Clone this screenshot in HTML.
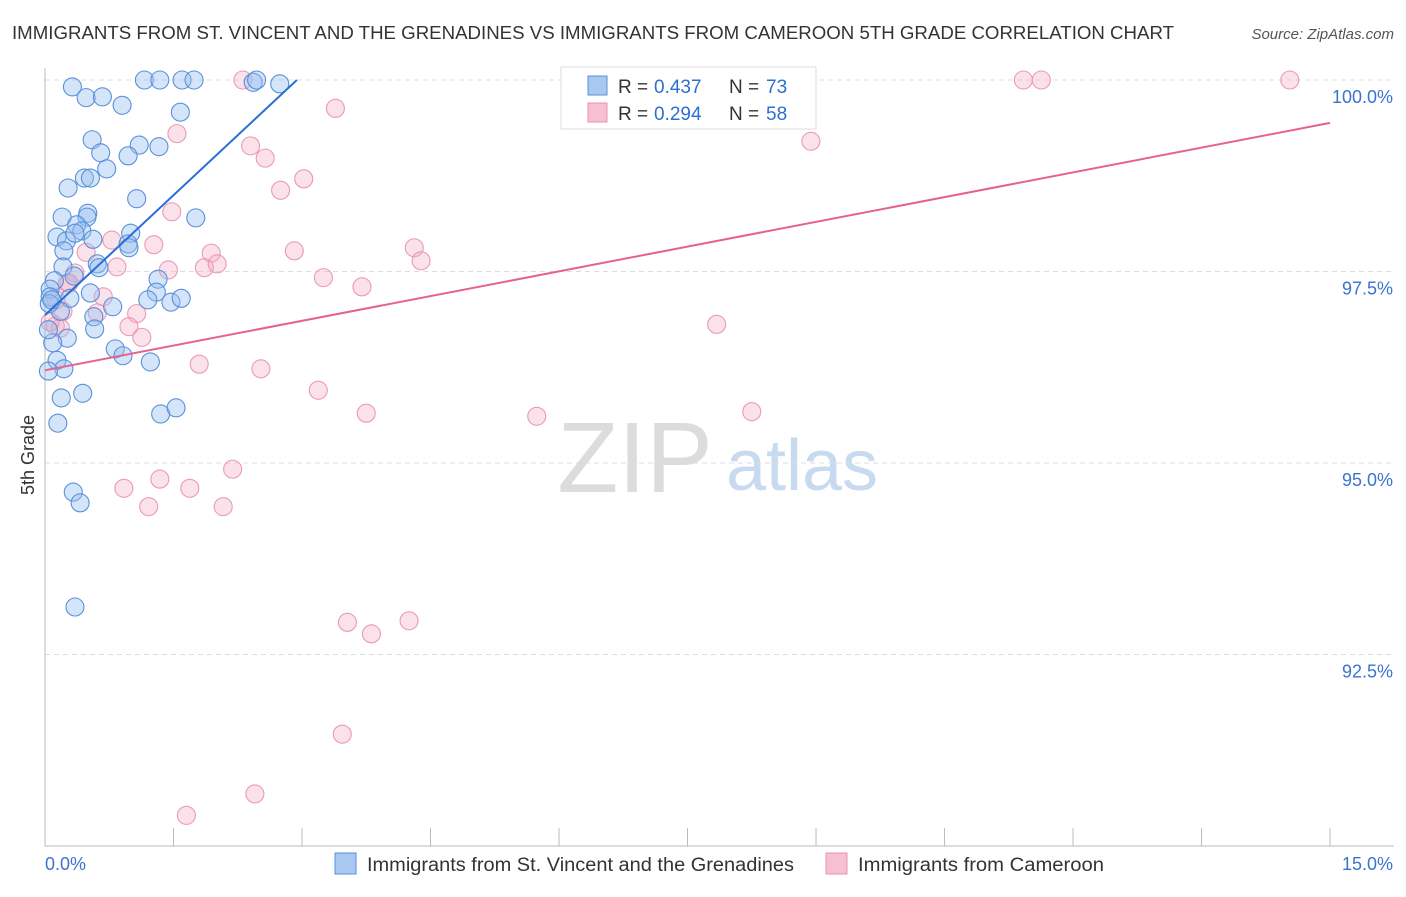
<!DOCTYPE html>
<html><head><meta charset="utf-8"><style>
body{margin:0;background:#fff;font-family:"Liberation Sans",sans-serif;}
svg text{font-family:"Liberation Sans",sans-serif;}
</style></head><body>
<svg id="chart" width="1406" height="892">
<text x="12" y="39" font-size="18" fill="#333" textLength="1162" lengthAdjust="spacingAndGlyphs">IMMIGRANTS FROM ST. VINCENT AND THE GRENADINES VS IMMIGRANTS FROM CAMEROON 5TH GRADE CORRELATION CHART</text>
<text x="1394" y="39" font-size="15" fill="#555" font-style="italic" text-anchor="end">Source: ZipAtlas.com</text>
<text x="34" y="455" font-size="18" fill="#333" transform="rotate(-90 34 455)" text-anchor="middle">5th Grade</text>
<g>
<text x="635" y="492" font-size="100" fill="#dcdcdc" text-anchor="middle" font-family="Liberation Serif">ZIP</text>
<text x="802" y="490" font-size="72" fill="#c8daf0" text-anchor="middle">atlas</text></g>
<g id="grid"></g><g id="axes"></g><g id="pts"></g><g id="lines"></g>
<g>
<rect x="561" y="67" width="255" height="62" fill="#fff" stroke="#ddd"/>
<rect x="588" y="76" width="19" height="19" fill="#a9c8f0" stroke="#5b8fd9"/>
<rect x="588" y="103" width="19" height="19" fill="#f7c0d0" stroke="#e890ac"/>
<text x="618" y="93" font-size="19" fill="#333">R =</text><text x="654" y="93" font-size="19" fill="#2b6fd0">0.437</text>
<text x="729" y="93" font-size="19" fill="#333">N =</text><text x="766" y="93" font-size="19" fill="#2b6fd0">73</text>
<text x="618" y="120" font-size="19" fill="#333">R =</text><text x="654" y="120" font-size="19" fill="#2b6fd0">0.294</text>
<text x="729" y="120" font-size="19" fill="#333">N =</text><text x="766" y="120" font-size="19" fill="#2b6fd0">58</text>
</g>
<g>
<rect x="335" y="853" width="21" height="21" fill="#a9c8f0" stroke="#5b8fd9"/>
<text x="367" y="871" font-size="19" fill="#333" textLength="427" lengthAdjust="spacingAndGlyphs">Immigrants from St. Vincent and the Grenadines</text>
<rect x="826" y="853" width="21" height="21" fill="#f7c0d0" stroke="#e890ac"/>
<text x="858" y="871" font-size="19" fill="#333" textLength="246" lengthAdjust="spacingAndGlyphs">Immigrants from Cameroon</text>
</g>
</svg>
<script>
const blueX=[0.32,0.48,0.67,0.90,1.16,1.34,1.60,1.74,2.43,2.47,2.74,1.58,0.55,0.65,1.10,0.97,1.33,0.72,0.27,0.46,0.53,1.07,1.76,0.20,0.50,0.49,0.37,0.43,0.14,0.25,0.35,1.00,0.56,0.97,0.98,0.22,0.61,0.63,0.21,0.34,0.11,1.32,0.06,0.53,1.30,0.29,1.20,1.47,1.59,0.79,0.06,0.18,0.05,0.57,0.58,0.26,0.09,0.82,0.91,1.23,0.14,0.22,0.04,0.19,0.44,0.15,1.35,1.53,0.33,0.41,0.35,0.04,0.08];
const blueY=[99.91,99.77,99.78,99.67,100,100,100,100,99.97,100,99.95,99.58,99.22,99.05,99.15,99.01,99.13,98.84,98.59,98.72,98.72,98.45,98.20,98.21,98.26,98.21,98.11,98.03,97.95,97.90,98.00,98.00,97.92,97.86,97.81,97.77,97.60,97.55,97.56,97.44,97.38,97.40,97.27,97.22,97.23,97.15,97.13,97.10,97.15,97.04,97.17,96.98,97.08,96.91,96.75,96.63,96.57,96.49,96.40,96.32,96.34,96.23,96.20,95.85,95.91,95.52,95.64,95.72,94.62,94.48,93.12,96.74,97.13];
const pinkX=[2.31,11.42,11.63,14.53,8.53,3.39,1.54,2.40,2.57,8.94,3.02,2.75,1.48,0.78,1.27,2.91,4.31,1.94,0.48,0.84,1.44,1.86,2.01,4.39,3.25,0.35,3.70,0.26,0.68,1.07,0.61,0.98,1.13,0.12,0.18,0.06,7.84,1.80,2.52,3.19,3.75,5.74,8.25,2.19,1.34,0.92,1.69,1.21,2.08,3.53,4.25,3.81,3.47,2.45,1.65,0.28,0.13,0.21];
const pinkY=[100,100,100,100,100,99.63,99.30,99.14,98.98,99.20,98.71,98.56,98.28,97.91,97.85,97.77,97.81,97.74,97.75,97.56,97.52,97.55,97.60,97.64,97.42,97.48,97.30,97.35,97.17,96.95,96.96,96.78,96.64,96.79,96.76,96.84,96.81,96.29,96.23,95.95,95.65,95.61,95.67,94.92,94.79,94.67,94.67,94.43,94.43,92.92,92.94,92.77,91.46,90.68,90.40,97.35,97.13,96.98];
const blueLine=[[0,96.93],[2.94,100.0]];
const pinkLine=[[0,96.21],[15,99.44]];
const yTicks=[100,97.5,95,92.5];
const yTickLabels=["100.0%","97.5%","95.0%","92.5%"];
const xTickVals=[0,1.5,3,4.5,6,7.5,9,10.5,12,13.5,15];
const NS="http://www.w3.org/2000/svg";
const sx=v=>45+v*85.67, sy=v=>80+(100-v)*76.6;
function mk(t,a,p){const e=document.createElementNS(NS,t);for(const k in a)e.setAttribute(k,a[k]);p.appendChild(e);return e;}
const grid=document.getElementById('grid'),axes=document.getElementById('axes'),pts=document.getElementById('pts'),lines=document.getElementById('lines');
yTicks.forEach((v,i)=>{
 const l=mk('line',{x1:45,x2:1394,y1:sy(v),y2:sy(v),stroke:'#ddd','stroke-dasharray':'5,4'},grid);
 
 
 const t=mk('text',{x:1393,y:sy(v)+23,'font-size':18,fill:'#3a74d0','text-anchor':'end'},axes);
 t.textContent=yTickLabels[i];
 
 
});
const ax=mk('line',{x1:45,x2:45,y1:68,y2:846,stroke:'#bbb'},axes);


const bx=mk('line',{x1:45,x2:1394,y1:846,y2:846,stroke:'#bbb'},axes);


xTickVals.forEach(v=>{const t=mk('line',{x1:sx(v),x2:sx(v),y1:828,y2:846,stroke:'#bbb'},axes);
 
 });
const x0=mk('text',{x:45,y:870,'font-size':18,fill:'#3a74d0'},axes);x0.textContent='0.0%';


const x1=mk('text',{x:1393,y:870,'font-size':18,fill:'#3a74d0','text-anchor':'end'},axes);x1.textContent='15.0%';


pinkX.forEach((v,i)=>{const c=mk('circle',{cx:sx(v),cy:sy(pinkY[i]),r:9,fill:'rgba(244,170,195,0.35)',stroke:'#ea9ab5','stroke-width':1.1},pts);
 
 });
blueX.forEach((v,i)=>{const c=mk('circle',{cx:sx(v),cy:sy(blueY[i]),r:9,fill:'rgba(150,190,240,0.4)',stroke:'#5a90da','stroke-width':1.1},pts);
 
 });
const bl=mk('line',{x1:sx(blueLine[0][0]),y1:sy(blueLine[0][1]),x2:sx(blueLine[1][0]),y2:sy(blueLine[1][1]),stroke:'#2a6fd6','stroke-width':2},lines);


const pl=mk('line',{x1:sx(pinkLine[0][0]),y1:sy(pinkLine[0][1]),x2:sx(pinkLine[1][0]),y2:sy(pinkLine[1][1]),stroke:'#e5628f','stroke-width':2},lines);


</script>
</body></html>
